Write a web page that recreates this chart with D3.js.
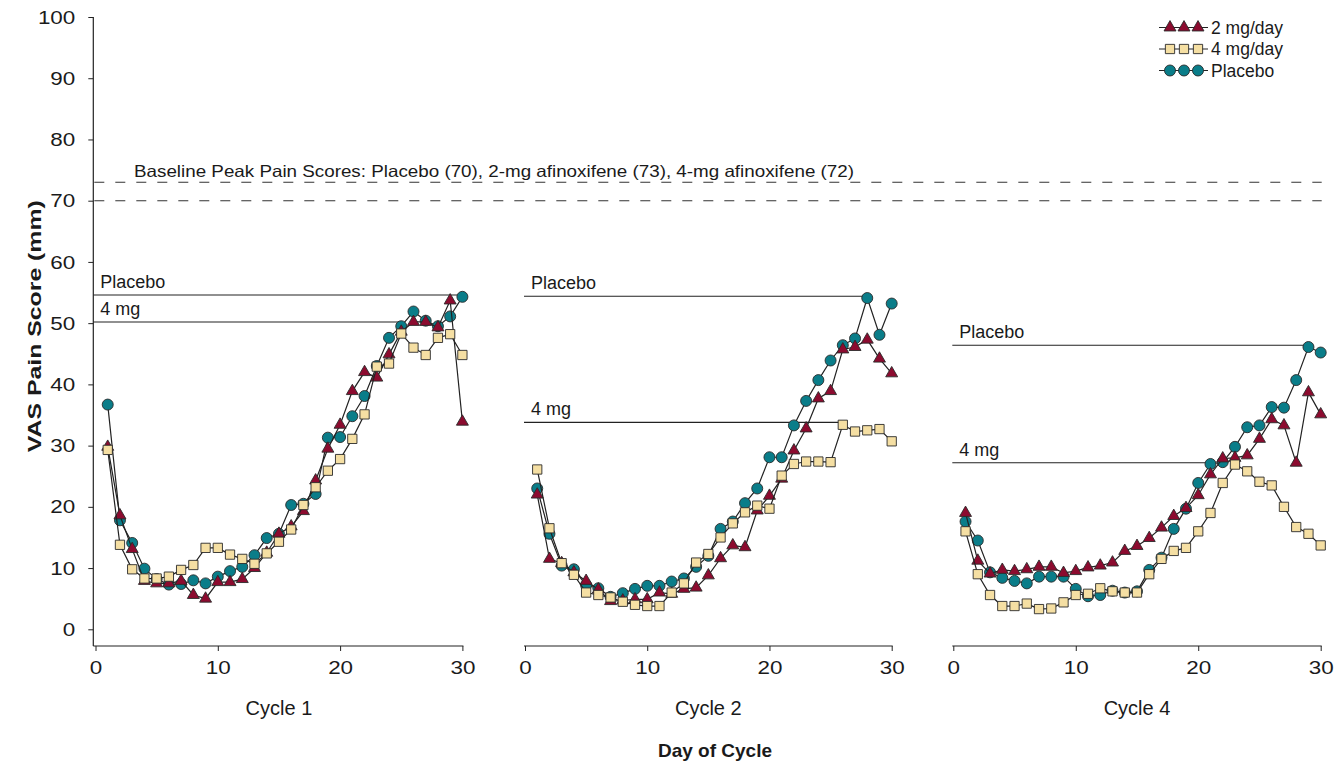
<!DOCTYPE html>
<html><head><meta charset="utf-8">
<script src="https://cdn.jsdelivr.net/npm/d3@7"></script>
<style>
body{margin:0;background:#fff;}
text{font-family:"Liberation Sans",Arial,Helvetica,sans-serif;fill:#1a1a1a;}
</style></head>
<body><svg id="c" width="1339" height="764"></svg>
<script>
// ---------- DATA ----------
const days = d3.range(1, 31);
const cycles = ["Cycle 1", "Cycle 2", "Cycle 4"];
const seriesNames = ["2 mg/day", "4 mg/day", "Placebo"];
const yTicks = [0,10,20,30,40,50,60,70,80,90,100];
const xTicks = [0,10,20,30];

const c1_2mg = [29.8,18.6,13.1,7.9,7.5,7.5,7.9,5.6,5.0,7.7,7.7,8.2,10.0,12.5,15.6,16.8,19.3,24.3,29.5,33.4,38.9,42.0,41.1,44.9,48.6,50.2,50.2,49.3,53.7,33.9];
const c1_4mg = [29.3,13.8,9.8,8.3,8.3,8.6,9.7,10.5,13.3,13.3,12.2,11.5,10.7,12.4,14.3,16.3,20.3,23.2,25.9,27.8,31.1,35.1,42.9,43.4,48.3,46.0,44.8,47.6,48.2,44.8];
const c1_pla = [36.7,17.8,14.1,9.9,8.2,7.3,7.4,8.0,7.5,8.6,9.5,10.2,12.1,14.9,15.6,20.3,20.5,22.1,31.3,31.4,34.8,38.1,43.0,47.6,49.5,51.9,50.4,49.5,51.1,54.3];

const c2_2mg = [22.0,11.5,10.8,9.3,7.9,6.5,4.6,4.7,4.9,4.9,6.0,5.8,6.6,6.8,8.8,11.6,13.7,13.4,19.4,21.8,24.6,29.2,32.8,37.7,38.9,45.7,46.1,47.3,44.2,41.8];
const c2_4mg = [26.1,16.5,10.8,8.9,6.0,5.6,5.2,4.5,4.0,3.8,3.8,6.0,7.5,10.9,12.3,15.0,17.3,19.1,20.2,19.7,25.1,27.0,27.4,27.4,27.3,33.4,32.3,32.5,32.7,30.7];
const c2_pla = [23.0,15.6,10.4,9.8,7.2,6.7,5.3,5.9,6.6,7.1,7.1,7.8,8.3,10.2,12.0,16.4,17.6,20.6,23.0,28.1,28.1,33.3,37.3,40.7,43.9,46.4,47.5,54.1,48.1,53.2];

const c4_2mg = [19.0,11.2,9.1,9.7,9.5,9.8,10.2,10.2,9.2,9.5,10.1,10.4,10.9,12.8,13.6,14.9,16.6,18.5,19.8,21.9,25.3,27.9,28.0,28.4,31.1,34.3,33.3,27.2,38.7,35.1];
const c4_4mg = [16.0,9.0,5.6,3.8,3.8,4.2,3.3,3.4,4.4,5.6,5.8,6.7,6.2,6.0,6.0,9.0,11.5,12.8,13.3,16.0,19.0,23.9,26.9,25.8,24.1,23.5,20.0,16.7,15.6,13.7];
const c4_pla = [17.6,14.5,9.3,8.4,7.9,7.5,8.6,8.6,8.6,6.6,5.4,5.6,6.3,6.0,6.2,9.7,11.7,16.4,19.7,23.9,27.0,27.3,29.8,33.0,33.3,36.3,36.2,40.7,46.1,45.2];

// reference (max) lines per cycle
const refLabels = ["Placebo", "4 mg"];
const refValues = [[54.6, 50.2], [54.4, 33.8], [46.4, 27.2]];
const refEndDays = [[30, 25], [28, 26], [29, 21]];

const baselineValues = [73, 70];
const baselineText = "Baseline Peak Pain Scores: Placebo (70), 2-mg afinoxifene (73), 4-mg afinoxifene (72)";

// ---------- LAYOUT ----------
const svg = d3.select("#c");
const colors = {"2 mg/day":"#8c0b2f","4 mg/day":"#f5dfa3","Placebo":"#0a7d89"};
const shapes = {"2 mg/day":d3.symbolTriangle,"4 mg/day":d3.symbolSquare,"Placebo":d3.symbolCircle};
const sizes = {"2 mg/day":62,"4 mg/day":86,"Placebo":95};
const drawOrder = ["Placebo","2 mg/day","4 mg/day"];
const panelData = [
  {"2 mg/day":c1_2mg,"4 mg/day":c1_4mg,"Placebo":c1_pla},
  {"2 mg/day":c2_2mg,"4 mg/day":c2_4mg,"Placebo":c2_pla},
  {"2 mg/day":c4_2mg,"4 mg/day":c4_4mg,"Placebo":c4_pla}
];
const panelRanges = [[95.5,462.4],[525,891.7],[953.3,1320.7]];
const y = d3.scaleLinear().domain([0,100]).range([629.3,17]);
const axisY = 646;
const yAxisX = 93.3;

function widen(sel, k){
  sel.each(function(){
    const w = this.getComputedTextLength();
    d3.select(this).attr("textLength", w*k).attr("lengthAdjust","spacingAndGlyphs");
  });
}

// y axis
const ya = svg.append("g").attr("transform",`translate(${yAxisX},0)`)
  .call(d3.axisLeft(y).tickValues(yTicks).tickSize(5).tickPadding(13));
ya.select(".domain").remove();
ya.selectAll("line").attr("stroke","#222");
ya.selectAll("text").style("font-size","19px").attr("fill","#1a1a1a");
widen(ya.selectAll("text"), 1.18);
svg.append("line").attr("x1",yAxisX).attr("x2",yAxisX).attr("y1",y(100)).attr("y2",axisY).attr("stroke","#222").attr("stroke-width",1.2);

svg.append("text").attr("transform",`translate(41,${y(49.5)}) rotate(-90)`)
  .attr("text-anchor","middle").style("font-size","19px").style("font-weight","bold")
  .attr("textLength",252).attr("lengthAdjust","spacingAndGlyphs").text("VAS Pain Score (mm)");

// baseline dashed lines
baselineValues.forEach(v=>{
  svg.append("line").attr("x1",yAxisX+1).attr("x2",panelRanges[2][1]+1).attr("y1",y(v)).attr("y2",y(v))
    .attr("stroke","#333").attr("stroke-width",1.1).attr("stroke-dasharray","10,11");
});
svg.append("text").attr("x",134).attr("y",177).style("font-size","16.5px")
  .attr("textLength",720).attr("lengthAdjust","spacingAndGlyphs").text(baselineText);

const line = d3.line().x(d=>d[0]).y(d=>d[1]);

panelData.forEach((pd,pi)=>{
  const x = d3.scaleLinear().domain([0,30]).range(panelRanges[pi]);
  const g = svg.append("g");
  const xa = g.append("g").attr("transform",`translate(0,${axisY})`)
    .call(d3.axisBottom(x).tickValues(xTicks).tickSize(5).tickPadding(10));
  xa.select(".domain").remove();
  xa.selectAll("line").attr("stroke","#222");
  xa.selectAll("text").style("font-size","19px").attr("fill","#1a1a1a");
  widen(xa.selectAll("text"), 1.18);
  const x0 = pi===0 ? yAxisX : x(0)-1;
  g.append("line").attr("x1",x0).attr("x2",x(30)+1).attr("y1",axisY).attr("y2",axisY).attr("stroke","#222").attr("stroke-width",1.2);
  g.append("text").attr("x",x(15)).attr("y",axisY+69).attr("text-anchor","middle").style("font-size","20px").text(cycles[pi]);

  refLabels.forEach((lab,li)=>{
    const v = refValues[pi][li];
    g.append("line").attr("x1",x0).attr("x2",x(refEndDays[pi][li])).attr("y1",y(v)).attr("y2",y(v))
      .attr("stroke","#222").attr("stroke-width",1.1);
    g.append("text").attr("x",x0+7).attr("y",y(v)-7).style("font-size","18px").text(lab);
  });

  drawOrder.forEach(s=>{
    const vals = pd[s];
    const pts = days.map((d,i)=>[x(d), y(vals[i])]);
    g.append("path").attr("d",line(pts)).attr("fill","none").attr("stroke","#222").attr("stroke-width",1.2);
    g.selectAll(null).data(pts).enter().append("path")
      .attr("d",d3.symbol().type(shapes[s]).size(sizes[s]))
      .attr("transform",d=>`translate(${d[0]},${d[1]})`)
      .attr("fill",colors[s]).attr("stroke","#2a2a2a").attr("stroke-width",0.9);
  });
});

svg.append("text").attr("x",715).attr("y",757).attr("text-anchor","middle")
  .style("font-size","19px").style("font-weight","bold").text("Day of Cycle");

// legend
const legY = [27.5, 49, 70.5];
const legX = [1170, 1184, 1198];
seriesNames.forEach((s,i)=>{
  const gy = legY[i];
  svg.append("line").attr("x1",1159).attr("x2",1208).attr("y1",gy).attr("y2",gy).attr("stroke","#222").attr("stroke-width",1.2);
  legX.forEach(lx=>{
    svg.append("path").attr("d",d3.symbol().type(shapes[s]).size(sizes[s]))
      .attr("transform",`translate(${lx},${gy})`).attr("fill",colors[s]).attr("stroke","#2a2a2a").attr("stroke-width",0.9);
  });
  svg.append("text").attr("x",1211).attr("y",gy+6).style("font-size","17.5px").text(s);
});
</script></body></html>
